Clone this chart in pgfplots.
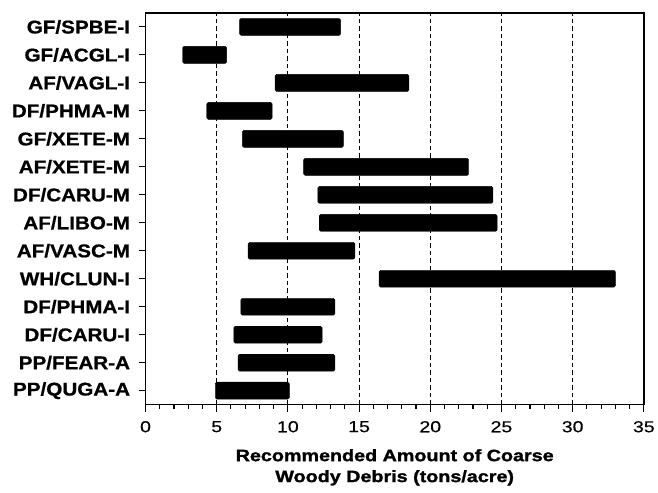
\documentclass[border=0pt]{standalone}
\usepackage{pgfplots}
\usepackage{pgfplotstable}
\pgfplotsset{compat=1.18}
\usepackage{fontspec}
\setmainfont{Liberation Sans}
\newfontfamily\ylabfont[FakeStretch=1.12,FakeBold=0.8]{Liberation Sans}
\newfontfamily\xtickfont[FakeStretch=1.22,FakeBold=0.4]{Liberation Sans}
\newfontfamily\xlabfont[FakeStretch=1.2,FakeBold=1.4]{Liberation Sans}
\pgfplotstableread{
idx start len
0 4.9 5.2
1 6.5 6.8
2 6.2 6.2
3 6.7 6.6
4 16.4 16.6
5 7.2 7.5
6 12.2 12.5
7 12.1 12.3
8 11.1 11.6
9 6.8 7.1
10 4.3 4.6
11 9.1 9.4
12 2.6 3.1
13 6.6 7.1
}\data
\begin{document}
\begin{tikzpicture}
\begin{axis}[
  name=ax,
  scale only axis,
  width=500pt, height=393pt,
  xmin=0, xmax=35, ymin=-0.5, ymax=13.5,
  xbar stacked, bar width=17pt,
  xtick={0,5,...,35}, minor x tick num=4,
  ytick={0,...,13},
  yticklabels={PP/QUGA-A,PP/FEAR-A,DF/CARU-I,DF/PHMA-I,WH/CLUN-I,AF/VASC-M,AF/LIBO-M,DF/CARU-M,AF/XETE-M,GF/XETE-M,DF/PHMA-M,AF/VAGL-I,GF/ACGL-I,GF/SPBE-I},
  tick align=outside,
  major tick length=7pt, minor tick length=4pt,
  xtick pos=bottom, ytick pos=left,
  tick style={line width=1.1pt, black},
  axis line style={line width=1.4pt},
  xmajorgrids,
  major grid style={line width=0.9pt, black, dash pattern=on 4.5pt off 3pt},
  /pgf/number format/assume math mode=true,
  xticklabel style={font=\xtickfont\fontsize{16}{18}\selectfont, yshift=-6pt},
  yticklabel style={font=\ylabfont\fontsize{18.5}{22}\selectfont\bfseries, xshift=-5pt},
  xlabel={Recommended Amount of Coarse\\Woody Debris (tons/acre)},
  xlabel style={font=\xlabfont\fontsize{16.5}{21}\selectfont\bfseries, align=center, yshift=-10pt},
]
\addplot[draw=none, fill=none] table[x=start, y=idx] {\data};
\addplot[fill=black, draw=black, rounded corners=1.5pt] table[x=len, y=idx] {\data};
\end{axis}
\path (ax.south west) ++(-146pt,-88pt) rectangle ++(658pt,494pt);
\end{tikzpicture}
\end{document}
